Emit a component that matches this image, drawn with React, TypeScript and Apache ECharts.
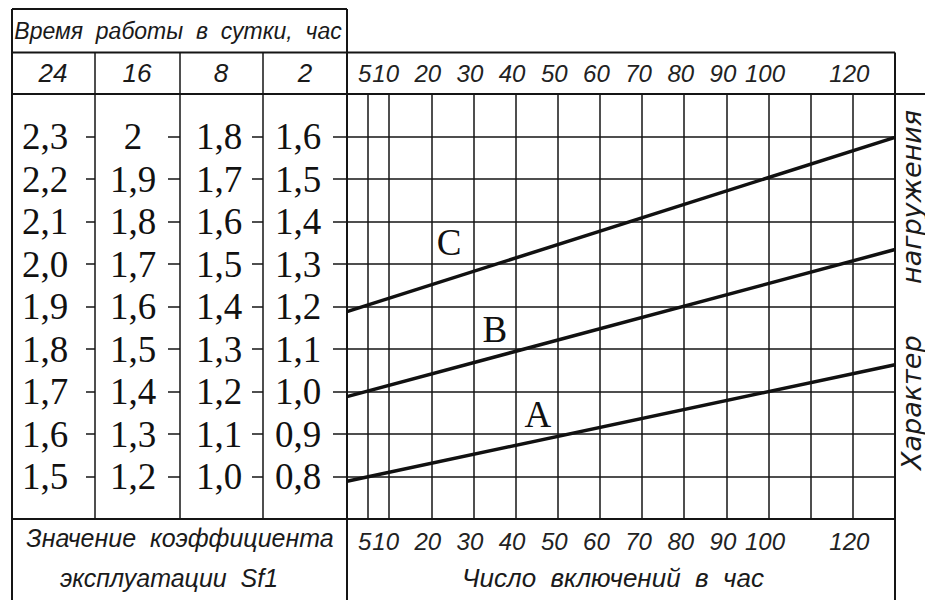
import { useEffect, useRef } from "react";
import * as echarts from "echarts";

// Число включений в час (x axis)
const switchLabels = [5, 10, 20, 30, 40, 50, 60, 70, 80, 90, 100, 120];
const switchGridLines = [5, 10, 20, 30, 40, 50, 60, 70, 80, 90, 100, 110, 120];
// Время работы в сутки, час (column headers)
const hoursHeaders = ["24", "16", "8", "2"];
// Sf1 values per column (bottom → top), blank at the borders
const sf24 = ["", "1,5", "1,6", "1,7", "1,8", "1,9", "2,0", "2,1", "2,2", "2,3", ""];
const sf16 = ["", "1,2", "1,3", "1,4", "1,5", "1,6", "1,7", "1,8", "1,9", "2", ""];
const sf8 = ["", "1,0", "1,1", "1,2", "1,3", "1,4", "1,5", "1,6", "1,7", "1,8", ""];
const sf2 = ["", "0,8", "0,9", "1,0", "1,1", "1,2", "1,3", "1,4", "1,5", "1,6", ""];
// Load character curves (x: switchings per hour, y: Sf1 in the "2 h" column scale)
const curveC = [[0, 1.188], [130, 1.598]];
const curveB = [[0, 0.988], [130, 1.334]];
const curveA = [[0, 0.789], [130, 1.063]];
const curveNames = ["C", "B", "A"];
const curveLabelAt = [[24.2, 1.351], [35.1, 1.146], [45.3, 0.945]];

const SANS = '"Liberation Sans Narrow", "Liberation Sans", sans-serif';
const WIDE = '"DejaVu Sans", "Liberation Sans", sans-serif';
const SERIF = '"Liberation Serif", "DejaVu Serif", serif';
const INK = "#151515";

export default function App() {
  const ref = useRef<HTMLDivElement>(null);
  useEffect(() => {
    if (!ref.current) return;
    const chart = echarts.init(ref.current, null, { renderer: "svg" });

    const catAxis = (data: string[], offset: number, tickLen: number, margin: number) => ({
      type: "category",
      data,
      boundaryGap: false,
      position: "left",
      offset,
      axisLine: { show: false },
      axisTick: { show: true, length: tickLen, interval: 0, lineStyle: { color: INK, width: 1.5 } },
      axisLabel: {
        interval: 0,
        margin,
        align: "center",
        fontFamily: SERIF,
        fontSize: 37,
        color: "#111",
      },
      splitLine: { show: false },
    });

    const xLabelCfg = (margin: number) => ({
      customValues: switchLabels,
      hideOverlap: false,
      showMinLabel: true,
      margin,
      verticalAlign: "middle",
      padding: [0, 7, 0, 0],
      fontFamily: SANS,
      fontStyle: "italic",
      fontSize: 24,
      color: "#222",
    });

    const L = (x1: number, y1: number, x2: number, y2: number, w = 2) => ({
      type: "line",
      silent: true,
      shape: { x1, y1, x2, y2 },
      style: { stroke: INK, lineWidth: w },
    });
    const T = (text: string, x: number, y: number, size: number, extra: any = {}, family = SANS) => ({
      type: "text",
      silent: true,
      x,
      y,
      ...extra,
      style: {
        text,
        x: 0,
        y: 0,
        fill: "#1a1a1a",
        fontFamily: family,
        fontStyle: "italic",
        fontSize: size,
        textAlign: "center",
        textVerticalAlign: "middle",
      },
    });

    const headerX = [53, 137, 221, 305];

    const curves = [curveC, curveB, curveA];
    const series: any[] = curves.map((d, i) => ({
      type: "line",
      data: d,
      symbol: "none",
      silent: true,
      lineStyle: { color: "#111", width: 3.5 },
      z: 5,
      markPoint: {
        silent: true,
        symbol: "circle",
        symbolSize: 0,
        itemStyle: { color: "transparent" },
        label: {
          show: true,
          position: "inside",
          formatter: curveNames[i],
          fontFamily: SERIF,
          fontSize: 37,
          color: "#111",
        },
        data: [{ coord: curveLabelAt[i] }],
      },
      markLine:
        i === 0
          ? {
              silent: true,
              symbol: ["none", "none"],
              label: { show: false },
              lineStyle: { color: INK, width: 1.5, type: "solid" },
              data: switchGridLines.map((v) => ({ xAxis: v })),
            }
          : undefined,
    }));

    chart.setOption({
      animation: false,
      backgroundColor: "#ffffff",
      grid: {
        left: 347,
        right: 30,
        top: 94,
        bottom: 81,
        show: true,
        borderColor: INK,
        borderWidth: 2,
        containLabel: false,
      },
      xAxis: [
        {
          type: "value",
          min: 0,
          max: 130,
          position: "bottom",
          axisLine: { show: false },
          axisTick: { show: false },
          splitLine: { show: false },
          axisLabel: xLabelCfg(22),
        },
        {
          type: "value",
          min: 0,
          max: 130,
          position: "top",
          axisLine: { show: false },
          axisTick: { show: false },
          splitLine: { show: false },
          axisLabel: xLabelCfg(21),
        },
      ],
      yAxis: [
        {
          type: "value",
          min: 0.7,
          max: 1.7,
          interval: 0.1,
          position: "left",
          axisLine: { show: false },
          axisTick: { show: false },
          axisLabel: { show: false },
          splitLine: { show: true, lineStyle: { color: INK, width: 1.5 } },
        },
        catAxis(sf2, 0, 14, 49),
        catAxis(sf8, 84, 11, 44),
        catAxis(sf16, 167, 12, 47),
        catAxis(sf24, 252, 9, 50),
      ],
      series,
      graphic: [
        L(12, 9, 12, 600),
        L(12, 9, 347, 9),
        L(347, 9, 347, 94),
        L(12, 52.5, 895, 52.5),
        L(12, 94, 925, 94),
        L(895, 52.5, 895, 600),
        L(95, 52.5, 95, 519, 1.5),
        L(180, 52.5, 180, 519, 1.5),
        L(263, 52.5, 263, 519, 1.5),
        L(12, 519, 895, 519),
        L(347, 519, 347, 600),
        T("Время  работы  в  сутки,  час", 178, 31, 23),
        ...hoursHeaders.map((h, i) => T(h, headerX[i], 73, 26)),
        T("Значение  коэффициента", 180, 538, 25),
        T("эксплуатации  Sf1", 169, 578, 25),
        T("Число  включений  в  час", 613, 578, 26),
        T("Характер      нагружения", 911, 290, 27, { rotation: Math.PI / 2 }, WIDE),
      ],
    });
    return () => chart.dispose();
  }, []);
  return (
    <div
      ref={ref}
      style={{ position: "absolute", left: 0, top: 0, width: 925, height: 600 }}
    />
  );
}
